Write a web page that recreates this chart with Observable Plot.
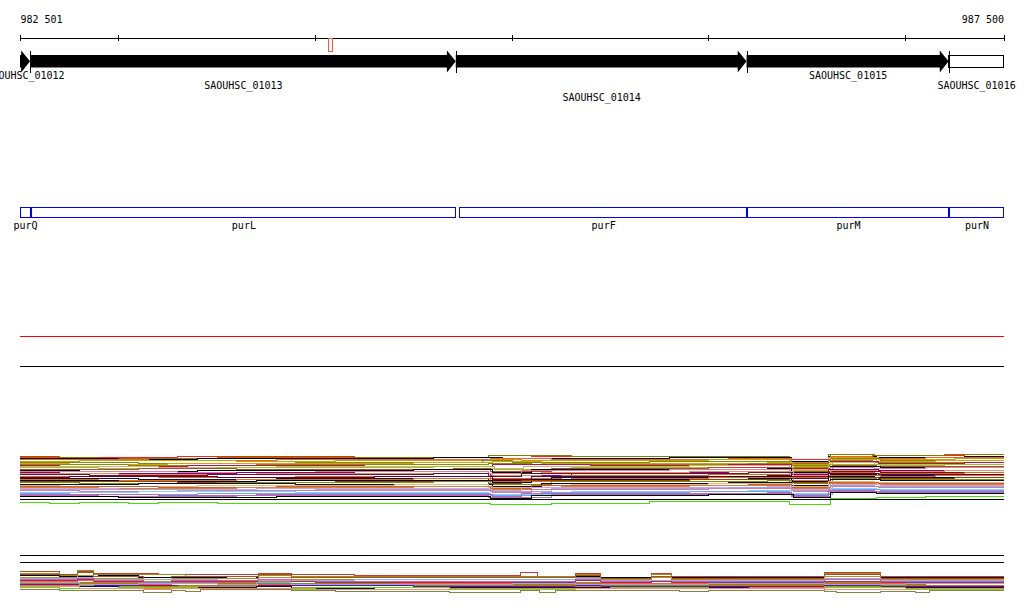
<!DOCTYPE html>
<html><head><meta charset="utf-8">
<script src="https://cdn.jsdelivr.net/npm/d3@7"></script>
<script src="https://cdn.jsdelivr.net/npm/@observablehq/plot@0.6"></script>
<style>body{margin:0;background:#fff;overflow:hidden}#chart svg{display:block}</style>
</head><body><div id="chart"></div>
<script>
// ---------- DATA ----------
const regionStart = 982501, regionEnd = 987500;
const tickPositions = [982501, 983000, 984000, 985000, 986000, 987000, 987500];
const endLabels = ["982 501", "987 500"];

const geneNames  = ["SAOUHSC_01012", "SAOUHSC_01013", "SAOUHSC_01014", "SAOUHSC_01015", "SAOUHSC_01016"];
const geneStarts = [981800, 982552, 984716, 986194, 987221];
const geneEnds   = [982552, 984716, 986194, 987221, 988000];

const purNames  = ["purQ", "purL", "purF", "purM", "purN"];
const purStarts = [982000, 982557, 984736, 986199, 987226];
const purEnds   = [982552, 984716, 986194, 987221, 988000];

const markerStarts = [984071];
const markerEnds   = [984091];

// track 1: [position, level] breakpoints per series (level = rows below track top)
const band1Colors = ["#ff2020","#808000","#000000","#e8603c","#c8a000","#7a8c10","#d4a017","#8c8c00","#b8124c","#d8b080",
  "#9ac030","#a0522d","#000000","#e080a0","#800080","#e09070","#701020","#d2691e","#600040","#101038",
  "#e07020","#000000","#8b4513","#8b8b00","#0a0a30","#deb887","#d06020","#cd853f","#d8a0d8","#b0a0d0",
  "#c080c0","#87cefa","#60b0f0","#c060c0","#b070b0","#000000","#44e000"];
const band1Breaks = [
  [[982501,0],[982700,1],[983300,0],[984200,1],[984880,-1],[985100,0],[986410,3],[986620,-2],[986840,-1],[987300,-2]],
  [[982501,1],[982900,2],[983500,1],[984880,-1],[985300,0],[986410,7],[986610,-2],[986830,-1],[987200,-2]],
  [[982501,2],[983000,3],[983400,2],[984600,1],[984950,2],[985800,1],[986420,5],[986610,0],[986850,1],[987300,0]],
  [[982501,3],[983150,4],[983800,3],[984890,2],[985200,3],[986100,2],[986420,6],[986620,0],[986830,2],[987100,1]],
  [[982501,5],[982800,4],[983600,5],[984100,4],[984880,3],[985050,4],[986000,3],[986410,8],[986610,1],[986860,3],[987250,2]],
  [[982501,6],[983100,7],[983900,6],[984850,4],[985000,6],[985700,5],[986420,9],[986620,2],[986870,4]],
  [[982501,7],[982750,8],[983250,7],[984500,6],[984900,5],[985150,7],[986300,6],[986430,10],[986630,3],[986850,5],[987150,4]],
  [[982501,8],[983050,9],[983700,8],[984880,7],[985100,8],[986200,7],[986420,11],[986610,4],[986830,6]],
  [[982501,9],[982700,10],[983350,9],[984250,10],[984900,8],[985400,9],[986100,8],[986420,12],[986620,5],[986860,7],[987300,6]],
  [[982501,10],[983200,11],[983800,10],[984870,12],[985060,10],[985900,9],[986410,13],[986620,6],[986840,8]],
  [[982501,11],[982900,12],[983500,11],[984600,10],[984910,13],[985300,11],[986430,14],[986610,8],[986870,9],[987200,8]],
  [[982501,13],[983100,12],[983600,13],[984700,12],[984890,15],[985200,12],[986000,11],[986420,15],[986630,9],[986850,10]],
  [[982501,14],[982800,15],[983400,14],[984500,13],[984900,16],[985100,13],[986300,12],[986420,16],[986620,10],[986870,11]],
  [[982501,15],[983300,16],[984000,15],[984880,17],[985050,14],[985800,13],[986410,17],[986620,11],[986840,12],[987100,11]],
  [[982501,16],[982700,17],[983600,16],[984200,17],[984890,19],[985300,16],[986100,15],[986420,18],[986610,13],[986860,14]],
  [[982501,17],[983000,18],[983700,17],[984900,19],[985150,16],[985900,15],[986430,19],[986620,14],[986850,15],[987200,14]],
  [[982501,18],[982850,19],[983450,18],[984600,17],[984880,20],[985050,17],[986200,16],[986420,20],[986630,15],[986870,16]],
  [[982501,20],[983200,21],[983900,20],[984890,22],[985250,19],[986000,18],[986410,21],[986620,16],[986840,17],[987300,16]],
  [[982501,21],[982750,20],[983500,21],[984300,20],[984900,23],[985100,20],[986300,19],[986420,22],[986610,17],[986860,18]],
  [[982501,22],[983100,23],[983800,22],[984880,24],[985200,21],[986100,20],[986420,24],[986620,18],[986850,19]],
  [[982501,23],[982900,24],[983600,23],[984500,22],[984890,25],[985300,22],[986000,21],[986430,24],[986620,19],[986870,20],[987150,19]],
  [[982501,24],[983000,25],[983700,24],[984900,26],[985100,23],[986200,22],[986420,25],[986610,20],[986840,21]],
  [[982501,25],[983300,26],[984100,25],[984880,27],[985050,24],[985900,23],[986410,26],[986620,21],[986860,22],[987250,21]],
  [[982501,26],[982800,27],[983500,26],[984600,25],[984890,28],[985200,25],[986300,24],[986420,27],[986630,22],[986850,23]],
  [[982501,28],[983100,27],[983900,28],[984900,30],[985150,27],[986100,26],[986420,29],[986620,23],[986870,24]],
  [[982501,29],[982700,30],[983400,29],[984400,28],[984880,31],[985300,28],[986000,27],[986430,30],[986610,25],[986840,26]],
  [[982501,30],[983200,31],[983800,30],[984890,32],[985100,29],[986200,28],[986420,31],[986620,26],[986860,27]],
  [[982501,31],[982900,32],[983600,31],[984500,30],[984900,33],[985250,30],[985900,29],[986410,32],[986620,27],[986850,28]],
  [[982501,32],[983000,33],[983700,32],[984880,34],[985050,31],[986300,30],[986420,33],[986630,28],[986870,29]],
  [[982501,33],[983300,34],[984000,33],[984890,35],[985200,32],[986100,31],[986420,34],[986610,29],[986840,30]],
  [[982501,34],[982800,35],[983500,34],[984900,36],[985100,33],[986000,32],[986430,35],[986620,30],[986860,31]],
  [[982501,36],[983100,35],[983900,36],[984880,38],[985300,35],[986200,34],[986420,37],[986620,32],[986850,33]],
  [[982501,37],[982750,38],[983400,37],[984890,39],[985150,36],[985900,35],[986410,38],[986630,33],[986870,34]],
  [[982501,38],[983200,39],[983700,38],[984900,40],[985050,37],[986300,36],[986420,39],[986610,34],[986840,35]],
  [[982501,39],[982900,40],[983600,39],[984880,41],[985200,38],[986100,37],[986420,40],[986620,35],[986860,36]],
  [[982501,40],[983000,41],[983800,40],[984890,42],[985100,39],[986000,38],[986430,41],[986620,36],[986850,37]],
  [[982501,46],[982650,47],[982800,46],[983050,47],[983200,46],[983500,47],[984890,48],[985200,47],[985700,45],[986410,48],[986620,42],[986850,41],[987100,40]]
];

// track 2
const band2Colors = ["#c83c28","#9a8a20","#000000","#a0522d","#b89020","#90b0e0","#c060c0","#c0204a","#f06040","#7a9020",
  "#d06a20","#900090","#cd853f","#70b8f0","#101040","#50e010","#e89070","#8a8040"];
const band2Breaks = [
  [[982501,1],[982700,4],[982790,1],[982870,3],[983200,4],[983710,3],[983880,4],[984200,5],[985040,2],[985130,7],[985320,3],[985450,7],[985710,3],[985810,6],[986590,2],[986870,6]],
  [[982501,3],[982700,5],[982790,0],[982870,4],[983340,6],[983710,5],[983880,6],[985320,4],[985450,7],[985710,4],[985810,7],[986590,3],[986870,7]],
  [[982501,5],[982700,6],[982900,5],[983100,7],[983550,6],[983700,7],[985320,6],[985450,7],[986590,6],[986870,7]],
  [[982501,4],[982790,2],[982870,6],[983125,9],[983270,6],[983710,4],[983880,7],[985320,5],[985450,8],[985710,6],[985810,8],[986590,4],[986870,8]],
  [[982501,7],[982790,5],[982870,8],[983125,11],[983270,8],[983710,7],[983880,9],[985320,7],[985450,9],[985710,7],[985810,9],[986590,6],[986870,9]],
  [[982501,8],[982790,7],[982870,9],[983500,10],[984200,9],[985320,8],[985450,10],[986590,8],[986870,10]],
  [[982501,9],[982790,8],[982870,10],[983125,12],[983270,10],[983710,9],[983880,11],[985320,9],[985450,11],[986590,9],[986870,11]],
  [[982501,10],[982790,9],[982870,11],[983125,13],[983270,11],[984000,12],[985320,10],[985450,12],[985710,11],[985810,12],[986590,11],[986870,12]],
  [[982501,11],[982790,10],[982870,12],[983125,14],[983270,12],[983710,11],[983880,13],[985320,12],[985450,13],[986590,12],[986870,13]],
  [[982501,12],[982870,13],[983125,15],[983270,13],[984400,14],[985320,13],[985450,14],[986590,13],[986870,14],[987100,13]],
  [[982501,13],[982870,14],[983125,16],[983270,15],[983710,14],[983880,15],[985320,14],[985450,15],[986590,14],[986870,15]],
  [[982501,14],[982870,15],[983300,16],[983710,15],[984500,16],[985320,15],[985450,16],[986590,15],[986870,16]],
  [[982501,15],[982870,16],[983125,18],[983270,16],[983880,17],[985320,16],[985450,17],[986590,16],[986870,17]],
  [[982501,12],[982800,14],[983100,13],[983500,14],[983700,12],[983880,14],[985000,13],[985320,14],[986000,13],[986590,14],[987000,13]],
  [[982501,16],[983000,17],[983700,16],[983880,18],[984300,17],[985320,17],[986200,18],[986590,17]],
  [[982501,17],[982700,18],[983000,17],[983400,18],[984000,17],[984680,18],[985500,17],[986000,18],[986590,17],[987000,18]],
  [[982501,16],[982800,18],[983125,19],[983270,18],[983880,19],[985320,18],[986590,19]],
  [[982501,19],[982700,20],[983125,22],[983270,20],[983340,21],[983415,19],[983880,20],[984100,21],[984680,22],[985040,20],[985140,22],[985220,20],[985850,21],[986000,20],[986590,21],[986650,22],[986870,21],[987050,22],[987120,20]]
];

// ---------- STYLE / LAYOUT ----------
const W = 1024, H = 611;
const L = {endLabel: 19, axis: 38, tickTop: 35, tickBot: 41,
  headTop: 50.5, shaftTop: 55, shaftBot: 67.5, headBot: 72.5, labelRows: [75, 85, 97.5],
  markerTop: 38, markerBot: 51, purTop: 207.5, purBot: 217, purLabel: 225,
  redRule: 336, blackRule: 366, band1Top: 456, band1Base: 499, band2Rules: [555, 562], band2Top: 570};
const HEAD_BP = 45;
const clipS = v => Math.max(v, regionStart), clipE = v => Math.min(v, regionEnd);

// ---------- DERIVED TABLES ----------
const genes = geneNames.map((name, i) => ({name, start: geneStarts[i], end: geneEnds[i], i}));
const arrowGenes = genes.filter(g => g.end <= regionEnd);
const boxGenes = genes.filter(g => g.end > regionEnd);
const mid = (L.shaftTop + L.shaftBot) / 2;
const arrowPts = arrowGenes.flatMap(g => {
  const hs = Math.max(g.end - HEAD_BP, regionStart);
  return [
    {g: g.name, x: clipS(g.start), y1: L.shaftTop, y2: L.shaftBot},
    {g: g.name, x: hs, y1: L.shaftTop, y2: L.shaftBot},
    {g: g.name, x: hs, y1: L.headTop, y2: L.headBot},
    {g: g.name, x: g.end, y1: mid, y2: mid}
  ];
});
const purs = purNames.map((name, i) => ({name, start: purStarts[i], end: purEnds[i]}));
const markers = markerStarts.map((s, i) => ({start: s, end: markerEnds[i]}));
const toTable = (breaks, colors, top) => breaks.flatMap((bp, s) =>
  [...bp, [regionEnd, bp[bp.length - 1][1]]].map(([x, v]) => ({s, x, y: top + v, c: colors[s]})));
const band1 = toTable(band1Breaks, band1Colors, L.band1Top);
const band2 = toTable(band2Breaks, band2Colors, L.band2Top);

const chart = Plot.plot({
  width: W, height: H, margin: 0,
  x: {domain: [regionStart, regionEnd], range: [20, 1003.5], axis: null},
  y: {domain: [0, H], range: [0, H], axis: null},
  color: {type: "identity"},
  style: {fontFamily: "'DejaVu Sans Mono', monospace", fontSize: "10px", background: "#fff", color: "#000"},
  marks: [
    Plot.ruleY([L.axis], {x1: regionStart, x2: regionEnd, stroke: "#000", shapeRendering: "crispEdges"}),
    Plot.ruleX(tickPositions, {x: d => d, y1: L.tickTop, y2: L.tickBot, stroke: "#000", shapeRendering: "crispEdges"}),
    Plot.text([regionStart], {x: d => d, y: L.endLabel, text: () => endLabels[0], textAnchor: "start", fill: "#000"}),
    Plot.text([regionEnd], {x: d => d, y: L.endLabel, text: () => endLabels[1], textAnchor: "end", fill: "#000"}),
    Plot.rect(markers, {x1: "start", x2: "end", y1: L.markerTop, y2: L.markerBot, fill: "#fff", stroke: "#f06040", shapeRendering: "crispEdges"}),
    Plot.area(arrowPts, {x1: "x", y1: "y1", y2: "y2", z: "g", fill: "#000", curve: "linear"}),
    Plot.rect(boxGenes, {x1: d => d.start, x2: d => clipE(d.end), y1: L.shaftTop, y2: L.shaftBot, fill: "#fff", stroke: "#000", shapeRendering: "crispEdges"}),
    Plot.ruleX(genes.filter(g => g.start >= regionStart), {x: "start", y1: L.headTop, y2: L.headBot, stroke: "#000", shapeRendering: "crispEdges"}),
    Plot.text(genes, {x: d => (clipS(d.start) + clipE(d.end)) / 2, y: d => L.labelRows[d.i % 3], text: "name", fill: "#000"}),
    Plot.rect(purs, {x1: d => clipS(d.start), x2: d => clipE(d.end), y1: L.purTop, y2: L.purBot, fill: "none", stroke: "#0000ff", shapeRendering: "crispEdges"}),
    Plot.text(purs, {x: d => (clipS(d.start) + clipE(d.end)) / 2, y: L.purLabel, text: "name", fill: "#000"}),
    Plot.ruleY([L.redRule], {x1: regionStart, x2: regionEnd, stroke: "#ff0000", shapeRendering: "crispEdges"}),
    Plot.ruleY([L.blackRule], {x1: regionStart, x2: regionEnd, stroke: "#000", shapeRendering: "crispEdges"}),
    Plot.line(band1, {x: "x", y: "y", z: "s", stroke: "c", strokeWidth: 1, curve: "step-after", shapeRendering: "crispEdges"}),
    Plot.ruleY([L.band1Base], {x1: regionStart, x2: regionEnd, stroke: "#000", shapeRendering: "crispEdges"}),
    Plot.ruleY(L.band2Rules, {x1: regionStart, x2: regionEnd, stroke: "#000", shapeRendering: "crispEdges"}),
    Plot.line(band2, {x: "x", y: "y", z: "s", stroke: "c", strokeWidth: 1, curve: "step-after", shapeRendering: "crispEdges"})
  ]
});
document.getElementById("chart").appendChild(chart);
</script>
</body></html>
